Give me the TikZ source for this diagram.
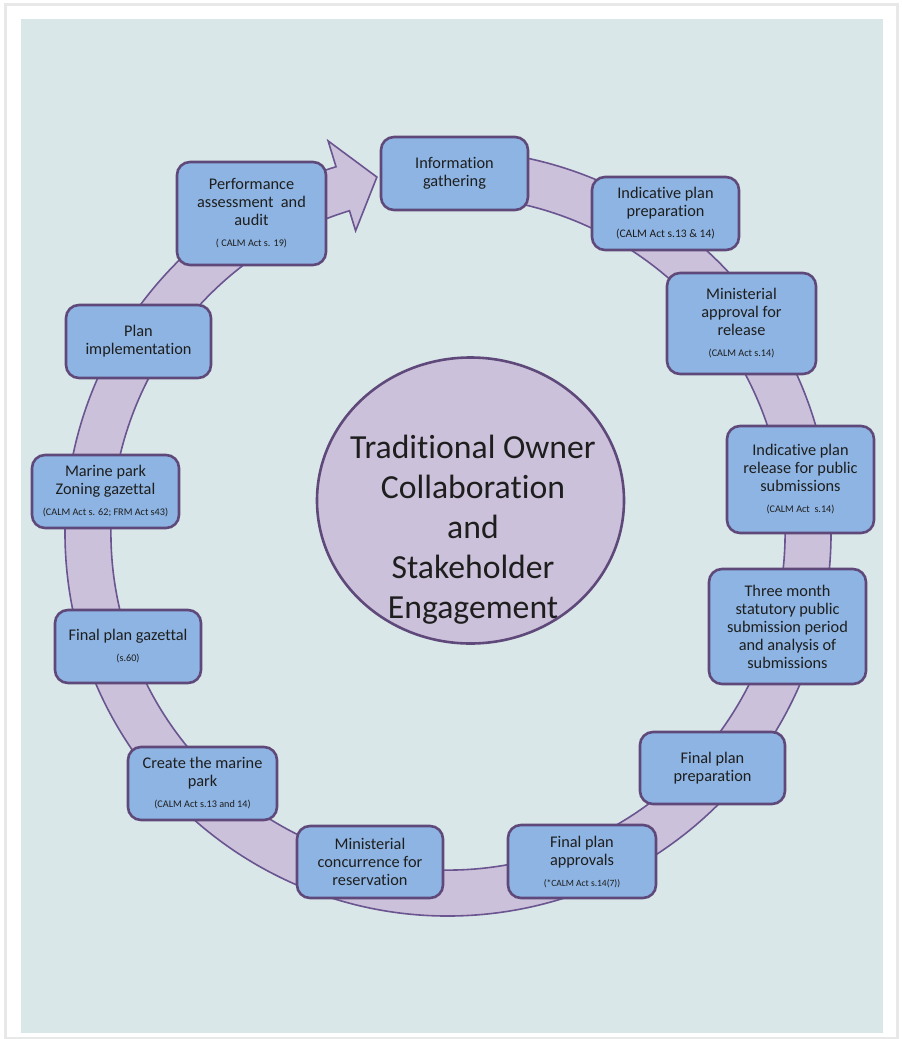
\documentclass[tikz,border=0pt]{standalone}
\usepackage{fontspec}
\setmainfont{Carlito}[Ligatures={NoCommon,NoRequired,NoContextual}]
\usetikzlibrary{shapes.geometric}
\definecolor{panel}{HTML}{DAE7E8}
\definecolor{boxfill}{HTML}{8DB4E2}
\definecolor{boxline}{HTML}{5F497A}
\definecolor{ringfill}{HTML}{CCC1DA}
\definecolor{ringline}{HTML}{6A5590}
\definecolor{txt}{HTML}{1E1E1E}
\newcommand\smallref[2][10.2]{{\fontsize{#1}{12}\selectfont #2}}
\tikzset{
  box/.style={draw=boxline, line width=2.6pt, fill=boxfill, rounded corners=13pt,
    align=center, font=\fontsize{16.3}{18}\selectfont, text=txt, inner sep=0pt,
    execute at begin node={\rule{0pt}{17pt}}},
  ringstyle/.style={draw=ringline, line width=1.6pt, fill=ringfill, line join=miter},
}
\begin{document}
\begin{tikzpicture}[x=1pt,y=1pt]
\useasboundingbox (0,0) rectangle (902,-1039);
% card and panel
\fill[gray!18] (4,-3) rectangle (899,-1039);
\fill[white] (7,-6) rectangle (896,-1037);
\fill[panel] (21,-19) rectangle (883,-1033);
% ring arrow
\coordinate (c) at (448,-533);
\draw[ringstyle] ([shift={(c)}]95:383) arc[start angle=95, end angle=-253, radius=383]
  -- ([shift={(c)}]-253:410) -- ([shift={(c)}]101.3:363) -- ([shift={(c)}]-253:316)
  -- ([shift={(c)}]-253:337) arc[start angle=-253, end angle=95, radius=337] -- cycle;
% central ellipse
\node[ellipse, draw=boxline, line width=2.6pt, fill=ringfill, minimum width=307pt, minimum height=286pt, inner sep=0pt] (core) at (470.5,-500.5) {};
\node[align=center, font=\fontsize{33.7}{40}\selectfont, text=txt] (coretext) at (473,-530) {Traditional Owner\\Collaboration\\and\\Stakeholder\\Engagement};
% boxes
\node[box, minimum width=147pt, minimum height=73pt] (info) at (454.5,-173.5) {Information\\gathering};
\node[box, minimum width=147pt, minimum height=73pt] (prep) at (665.5,-213.5) {Indicative plan\\preparation\\[3pt]\smallref[11.5]{(CALM Act s.13 \& 14)}};
\node[box, minimum width=149pt, minimum height=101pt] (minapp) at (741.5,-323.5) {Ministerial\\approval for\\release\\[3pt]\smallref{(CALM Act s.14)}};
\node[box, minimum width=147pt, minimum height=107pt] (release) at (800.5,-479.5) {Indicative plan\\release for public\\submissions\\[3pt]\smallref{(CALM Act~ s.14)}};
\node[box, minimum width=157pt, minimum height=115pt] (three) at (787.5,-626.5) {Three month\\statutory public\\submission period\\and analysis of\\submissions};
\node[box, minimum width=145pt, minimum height=72pt] (finprep) at (712.5,-768) {Final plan\\preparation};
\node[box, minimum width=148pt, minimum height=73pt] (finapp) at (582,-861.5) {Final plan\\approvals\\[3pt]\smallref[9.5]{(*CALM Act s.14(7))}};
\node[box, minimum width=146pt, minimum height=72pt] (concur) at (370,-862) {Ministerial\\concurrence for\\reservation};
\node[box, minimum width=149pt, minimum height=73pt] (create) at (202.5,-783.5) {Create the marine\\park\\[3pt]\smallref{(CALM Act s.13 and 14)}};
\node[box, minimum width=146pt, minimum height=73pt] (gazettal) at (128,-646.5) {Final plan gazettal\\[3pt]\smallref{(s.60)}};
\node[box, minimum width=147pt, minimum height=73pt] (zoning) at (105.5,-491.5) {Marine park\\Zoning gazettal\\[3pt]\smallref{(CALM Act s. 62; FRM Act s43)}};
\node[box, minimum width=145pt, minimum height=73pt] (impl) at (138.5,-341.5) {Plan\\implementation};
\node[box, minimum width=149pt, minimum height=103pt] (perf) at (251.5,-213.5) {Performance\\assessment~ and\\audit\\[3pt]\smallref{( CALM Act s. 19)}};
\end{tikzpicture}
\end{document}
